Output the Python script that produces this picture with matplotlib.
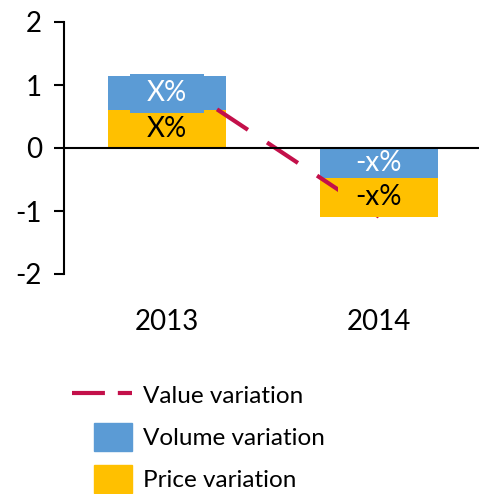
import matplotlib
matplotlib.use("Agg")
import matplotlib.pyplot as plt
from matplotlib.lines import Line2D
from matplotlib.patches import Rectangle

plt.rcParams['font.family'] = ['Lato', 'DejaVu Sans']
plt.rcParams['axes.unicode_minus'] = False

years = ['2013', '2014']
price = [0.60, -0.61]
volume = [0.54, -0.48]
value = [p + v for p, v in zip(price, volume)]
price_labels = ['X%', '-x%']
volume_labels = ['X%', '-x%']

blue = '#5B9BD5'
yellow = '#FFC000'
red = '#C3104A'

W, H = 479, 494
fig = plt.figure(figsize=(W / 100, H / 100), dpi=100)
ax = fig.add_axes([64 / W, 1 - 274 / H, 415 / W, 252 / H])

x = list(range(len(years)))
# stacking: positive volume sits on top of price, negative volume sits at the zero line
price_bottom = []
vol_bottom = []
for p, v in zip(price, volume):
    if p >= 0:
        price_bottom.append(0)
        vol_bottom.append(p)
    else:
        vol_bottom.append(0)
        price_bottom.append(v)

ax.bar(x, price, bottom=price_bottom, width=0.56, color=yellow, zorder=2)
ax.bar(x, volume, bottom=vol_bottom, width=0.56, color=blue, zorder=2)
ln, = ax.plot(x, value, color=red, lw=3, zorder=3, solid_capstyle='butt', dash_capstyle='butt')
ln.set_dashes((8.9, 5.5))


def label(i, center, text, fc, tc, z):
    # filled label box, kept on its own side of the zero line
    w = box_w[i]
    lo, hi = center - box_h / 2, center + box_h / 2
    if center > 0:
        lo = max(lo, 0)
    else:
        hi = min(hi, 0)
    ax.add_patch(Rectangle((i - w / 2, lo), w, hi - lo, fc=fc, ec='none', zorder=z))
    ax.text(i, center, text, ha='center', va='center', fontsize=20, color=tc, zorder=z + 0.1)


box_w = [0.345, 0.39]
box_h = 0.62
for i in x:
    pc = price_bottom[i] + price[i] / 2
    vc = vol_bottom[i] + volume[i] / 2
    # the label further from zero is drawn on top
    zp, zv = (4, 5) if abs(vc) > abs(pc) else (5, 4)
    label(i, pc, price_labels[i], yellow, 'black', zp)
    label(i, vc, volume_labels[i], blue, 'white', zv)

ax.axhline(0, color='black', lw=1.5, zorder=6)
ax.set_xlim(-0.486, 1.472)
ax.set_ylim(-2, 2)
ax.set_yticks([-2, -1, 0, 1, 2])
ax.set_xticks(x)
ax.set_xticklabels(years, fontsize=20)
ax.tick_params(axis='x', length=0, pad=25)
ax.tick_params(axis='y', length=7, width=1.5, pad=9, labelsize=20)
for s in ['top', 'right', 'bottom']:
    ax.spines[s].set_visible(False)
ax.spines['left'].set_linewidth(1.5)


def fx(px):
    return px / W


def fy(py):
    return 1 - py / H


# legend
fig.add_artist(Line2D([fx(72), fx(132)], [fy(393), fy(393)], color=red, lw=3,
                      dashes=(7.9, 3.1), dash_capstyle='butt', transform=fig.transFigure))
fig.add_artist(Rectangle((fx(94), fy(451)), fx(38), 28 / H, color=blue, transform=fig.transFigure))
fig.add_artist(Rectangle((fx(94), fy(493)), fx(38), 28 / H, color=yellow, transform=fig.transFigure))
fig.text(fx(143), fy(396), 'Value variation', fontsize=17.5, va='center')
fig.text(fx(143), fy(438), 'Volume variation', fontsize=17.5, va='center')
fig.text(fx(143), fy(480), 'Price variation', fontsize=17.5, va='center')

fig.savefig('out.png', dpi=100)
